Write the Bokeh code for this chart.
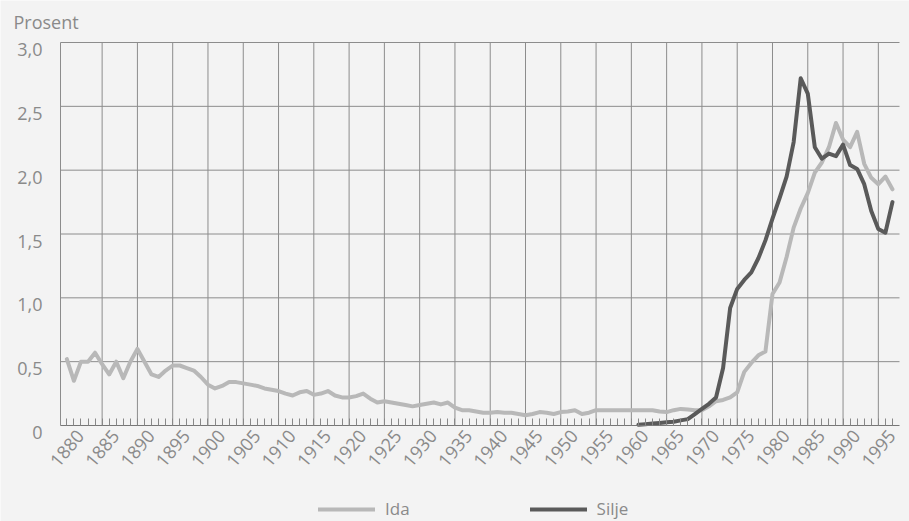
import math
from bokeh.plotting import figure
from bokeh.models import (FixedTicker, Legend, LegendItem, Label, LinearAxis,
                          Range1d)
from bokeh.embed import file_html
from bokeh.resources import INLINE

# ---- data ----
ida_years = list(range(1880, 1998))
ida_values = [
    0.52, 0.35, 0.50, 0.50, 0.57, 0.48, 0.40, 0.50, 0.37, 0.50,   # 1880-1889
    0.60, 0.50, 0.40, 0.38, 0.43, 0.47, 0.47, 0.45, 0.43, 0.38,   # 1890-1899
    0.32, 0.29, 0.31, 0.34, 0.34, 0.33, 0.32, 0.31, 0.29, 0.28,   # 1900-1909
    0.27, 0.25, 0.235, 0.26, 0.27, 0.24, 0.25, 0.27, 0.235, 0.22, # 1910-1919
    0.22, 0.23, 0.25, 0.21, 0.18, 0.19, 0.18, 0.17, 0.16, 0.15,   # 1920-1929
    0.16, 0.17, 0.18, 0.165, 0.18, 0.14, 0.12, 0.12, 0.11, 0.10,  # 1930-1939
    0.10, 0.105, 0.10, 0.10, 0.09, 0.08, 0.09, 0.105, 0.10, 0.09, # 1940-1949
    0.105, 0.11, 0.12, 0.09, 0.10, 0.12, 0.12, 0.12, 0.12, 0.12,  # 1950-1959
    0.12, 0.12, 0.12, 0.12, 0.11, 0.105, 0.12, 0.13, 0.125, 0.12, # 1960-1969
    0.12, 0.15, 0.19, 0.20, 0.22, 0.26, 0.42, 0.49, 0.55, 0.58,   # 1970-1979
    1.03, 1.12, 1.32, 1.55, 1.70, 1.82, 1.98, 2.06, 2.18, 2.37,   # 1980-1989
    2.24, 2.18, 2.30, 2.05, 1.94, 1.89, 1.95, 1.85,               # 1990-1997
]
silje_years = list(range(1961, 1998))
silje_values = [
    0.005, 0.01, 0.015, 0.02, 0.025, 0.03, 0.04, 0.05, 0.09,      # 1961-1969
    0.13, 0.17, 0.22, 0.45, 0.92, 1.07, 1.14, 1.20, 1.31, 1.45,   # 1970-1979
    1.62, 1.78, 1.95, 2.22, 2.72, 2.60, 2.18, 2.09, 2.13, 2.11,   # 1980-1989
    2.20, 2.04, 2.01, 1.89, 1.68, 1.54, 1.51, 1.75,               # 1990-1997
]
y_ticks = [0, 0.5, 1.0, 1.5, 2.0, 2.5, 3.0]
y_tick_labels = ["0", "0,5", "1,0", "1,5", "2,0", "2,5", "3,0"]
x_ticks = list(range(1880, 1996, 5))
series_names = ["Ida", "Silje"]
y_label_text = "Prosent"

BG = "#f3f3f3"
TXT = "#8a8a8a"
GRID = "#8c8c8c"
FONT = "Open Sans"

W, H = 909, 521
# plotting area of the original chart (pixels) and its data extent
PL, PR, PT, PB = 60, 899, 42, 425
X0, X1 = 1879.1, 1998.0
YMAX = 3.0
xs = (PR - PL) / (X1 - X0)
ys = (PB - PT) / YMAX
# the frame spans the whole canvas so that texts outside the data area are not clipped
XR = (X0 - PL / xs, X1 + (W - PR) / xs)
YR = (-(H - PB) / ys, YMAX + PT / ys)
XSHIFT = 1.9      # label axis offset (years) so rotated labels sit like the original
YSHIFT = 0.055    # label axis offset (units) so y labels sit slightly below grid lines

p = figure(width=W, height=H, output_backend="svg", toolbar_location=None,
           x_range=Range1d(*XR), y_range=Range1d(*YR), min_border=0)
p.background_fill_color = BG
p.border_fill_color = BG
p.outline_line_color = None
p.extra_x_ranges = {"xlab": Range1d(XR[0] - XSHIFT, XR[1] - XSHIFT)}
p.extra_y_ranges = {"ylab": Range1d(YR[0] + YSHIFT, YR[1] + YSHIFT)}
p.xgrid.visible = False
p.ygrid.visible = False
p.yaxis.visible = False

# grid lines limited to the data area
vgrid_x = [X0] + list(range(1885, 1996, 5))
p.segment(x0=vgrid_x, y0=[0] * len(vgrid_x), x1=vgrid_x, y1=[YMAX] * len(vgrid_x),
          line_color=GRID, line_width=1)
hgrid_y = y_ticks[1:]
p.segment(x0=[X0] * len(hgrid_y), y0=hgrid_y, x1=[X1] * len(hgrid_y), y1=hgrid_y,
          line_color=GRID, line_width=1)

# x axis: line and yearly ticks only, pinned at zero
xax = p.xaxis[0]
xax.fixed_location = 0
xax.bounds = (X0, X1)
xax.ticker = FixedTicker(ticks=[], minor_ticks=list(range(1880, 1998)))
xax.axis_line_color = "#777777"
xax.minor_tick_in = 7
xax.minor_tick_out = 0
xax.minor_tick_line_color = "#888888"

# x labels axis
xlab = LinearAxis(x_range_name="xlab", ticker=FixedTicker(ticks=x_ticks),
                  fixed_location=0)
xlab.axis_line_color = None
xlab.major_tick_line_color = None
xlab.minor_tick_line_color = None
xlab.major_label_orientation = 0.87
xlab.major_label_text_font = FONT
xlab.major_label_text_font_size = "18px"
xlab.major_label_text_color = TXT
xlab.major_label_standoff = 1
p.add_layout(xlab, "below")

# y axis labels on a slightly shifted axis, pinned at the left edge of the data area
ylab = LinearAxis(y_range_name="ylab", ticker=FixedTicker(ticks=y_ticks),
                  fixed_location=X0)
ylab.major_label_overrides = {t: s for t, s in zip(y_ticks, y_tick_labels)}
ylab.axis_line_color = None
ylab.major_tick_line_color = None
ylab.minor_tick_line_color = None
ylab.major_label_text_font = FONT
ylab.major_label_text_font_size = "18px"
ylab.major_label_text_color = TXT
ylab.major_label_standoff = 12
p.add_layout(ylab, "left")

p.add_layout(Label(x=X0, y=YMAX, text=y_label_text, x_offset=-47, y_offset=21,
                   text_align="left", text_baseline="middle",
                   text_font=FONT, text_font_size="18px", text_color=TXT))

r_ida = p.line(ida_years, ida_values, line_color="#b8b8b8", line_width=4,
               line_join="round", line_cap="round")
r_silje = p.line(silje_years, silje_values, line_color="#5a5a5a", line_width=4,
                 line_join="round", line_cap="round")

legend = Legend(items=[LegendItem(label=series_names[0], renderers=[r_ida]),
                       LegendItem(label=series_names[1], renderers=[r_silje])],
                orientation="horizontal", location=(318, 1),
                glyph_width=57, glyph_height=20, label_standoff=10, spacing=120,
                label_text_font=FONT, label_text_font_size="17px",
                label_text_color=TXT, background_fill_alpha=0,
                border_line_color=None, padding=0, margin=0)
p.add_layout(legend)

open("out.html", "w").write(file_html(p, INLINE))
